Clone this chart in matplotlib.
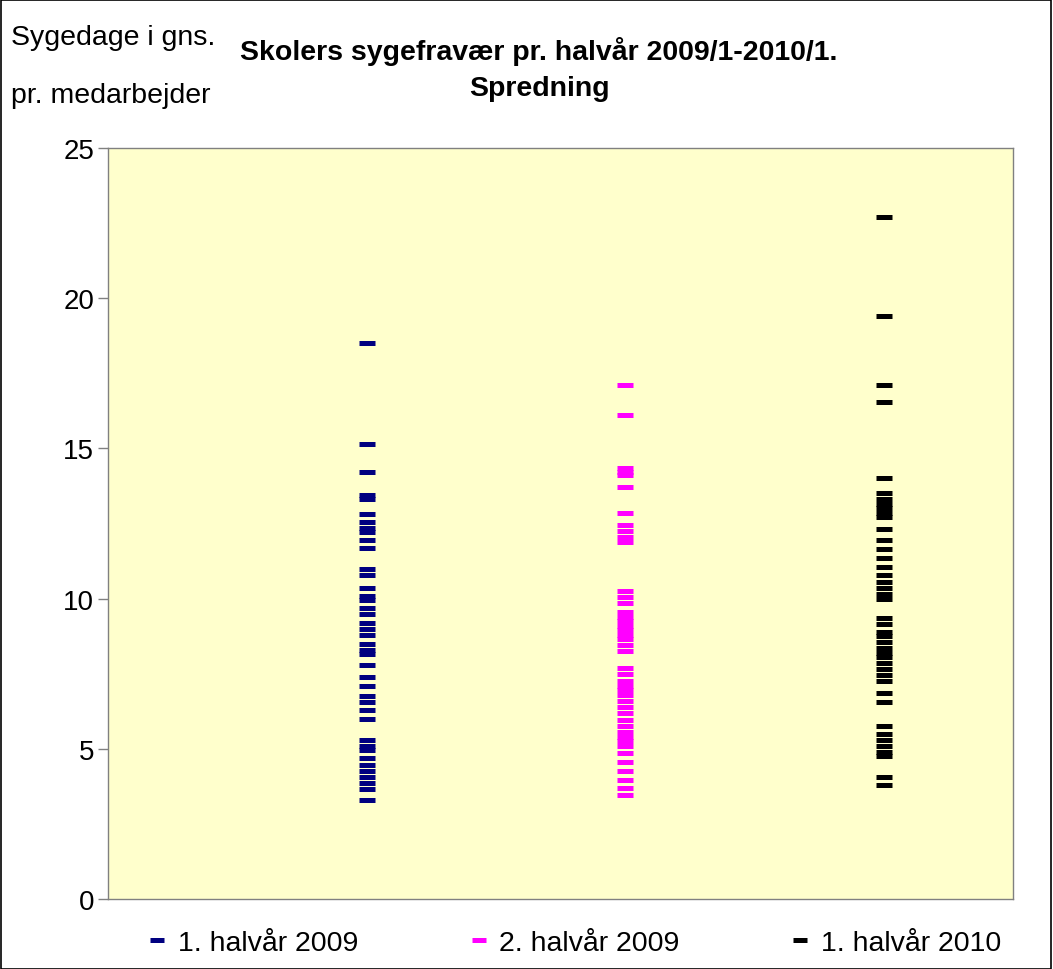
import numpy as np
import matplotlib.pyplot as plt
from matplotlib.patches import Rectangle

plt.rcParams['font.family'] = ['Liberation Sans', 'DejaVu Sans']

# Sick days per employee, one value per school
h1_2009 = [18.5, 15.15, 14.2, 13.45, 13.3, 12.8, 12.55, 12.35, 12.2, 11.95, 11.7,
           11.0, 10.8, 10.35, 10.1, 9.95, 9.7, 9.5, 9.2, 9.0, 8.8, 8.5, 8.3, 8.15,
           7.8, 7.4, 7.1, 6.75, 6.55, 6.3, 6.0, 5.3, 5.1, 4.95, 4.7, 4.45, 4.25,
           4.05, 3.85, 3.65, 3.3]
h2_2009 = [17.1, 16.1, 14.35, 14.2, 14.1, 13.7, 12.85, 12.45, 12.25, 12.05, 11.9,
           10.25, 10.05, 9.85, 9.55, 9.4, 9.25, 9.1, 8.95, 8.8, 8.65, 8.45, 8.25,
           7.7, 7.5, 7.25, 7.1, 6.95, 6.8, 6.6, 6.4, 6.2, 5.95, 5.75, 5.55, 5.4,
           5.25, 5.1, 4.85, 4.55, 4.25, 3.95, 3.7, 3.45]
h1_2010 = [22.7, 19.4, 17.1, 16.55, 14.0, 13.5, 13.3, 13.15, 13.0, 12.85, 12.7,
           12.3, 11.95, 11.65, 11.35, 11.05, 10.8, 10.55, 10.35, 10.15, 10.0, 9.35,
           9.15, 8.9, 8.75, 8.55, 8.35, 8.2, 8.05, 7.85, 7.65, 7.45, 7.25, 6.85,
           6.55, 5.75, 5.5, 5.3, 5.1, 4.9, 4.75, 4.05, 3.8]

series = [h1_2009, h2_2009, h1_2010]
labels = ['1. halvår 2009', '2. halvår 2009', '1. halvår 2010']
colors = ['#000080', '#FF00FF', '#000000']
yticks = [0, 5, 10, 15, 20, 25]

fig = plt.figure(figsize=(10.53, 9.70), dpi=100)
ax = fig.add_axes([0.1026, 0.0722, 0.8595, 0.7742])
ax.set_facecolor('#FFFFCC')

for i, (vals, lab, col) in enumerate(zip(series, labels, colors)):
    ax.plot(np.full(len(vals), i + 1), vals, linestyle='none', marker='_',
            markersize=12, mew=3.6, color=col, label=lab)

ax.set_xlim(0, 3.5)
ax.set_ylim(0, 25)
ax.set_xticks([])
ax.set_yticks(yticks)
ax.tick_params(axis='y', direction='out', length=7, width=1, color='#808080',
               labelsize=20, pad=3)
for sp in ax.spines.values():
    sp.set_color('#808080')
    sp.set_linewidth(1)

# y-axis title sits top left, two lines
fig.text(0.010, 1 - 38 / 970, 'Sygedage i gns.', fontsize=20.5, ha='left', va='center')
fig.text(0.010, 1 - 96 / 970, 'pr. medarbejder', fontsize=20.5, ha='left', va='center')

fig.text(0.512, 1 - 51 / 970, 'Skolers sygefravær pr. halvår 2009/1-2010/1.',
         fontsize=20.5, fontweight='bold', ha='center', va='center')
fig.text(0.512, 1 - 89 / 970, 'Spredning',
         fontsize=20.5, fontweight='bold', ha='center', va='center')

fig.legend(loc='center', bbox_to_anchor=(0.547, 1 - 944 / 970), ncol=3, frameon=False,
           fontsize=20.5, columnspacing=4.0, handlelength=0.45, handletextpad=0.5,
           markerscale=0.8)

fig.patches.append(Rectangle((0.0005, 0.0005), 0.998, 0.998, transform=fig.transFigure,
                             fill=False, edgecolor='black', linewidth=1.2))

fig.savefig('out.png', dpi=100)
